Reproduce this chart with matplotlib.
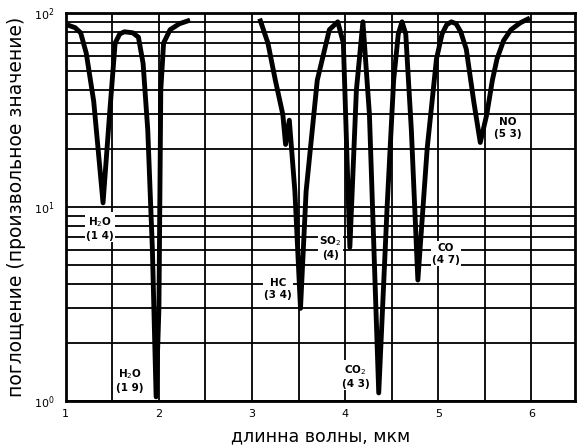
import matplotlib.pyplot as plt
import numpy as np
from matplotlib.ticker import LogLocator, MultipleLocator, FixedLocator, NullFormatter

# spectrum (nan = gap in the curve)
wavelength = [1.04, 1.10, 1.16, 1.22, 1.30, 1.40, 1.47, 1.53, 1.58, 1.63, 1.72, 1.78, 1.83, 1.88, 1.93, 1.97,
              2.00, 2.02, 2.05, 2.12, 2.22, 2.31, np.nan,
              3.09, 3.17, 3.25, 3.33, 3.36, 3.40, 3.46, 3.52, 3.58, 3.70, 3.83, 3.92, 3.98, 4.05,
              4.12, 4.19, 4.26, 4.36, 4.45, 4.52, 4.57, 4.61, 4.65, 4.71, 4.78, 4.88, 4.98, 5.04, 5.09,
              5.14, 5.19, 5.24, 5.30, 5.38, 5.45, 5.52, 5.58, 5.63, 5.70, 5.78, 5.88, 5.96]
absorption = [86, 84, 79, 62, 35, 10.5, 30, 70, 78, 80, 79, 75, 55, 25, 6, 1.05,
              3, 40, 70, 82, 88, 91, np.nan,
              91, 70, 45, 30, 21, 28, 12, 3.0, 12, 45, 82, 90, 70, 6.2,
              40, 90, 30, 1.1, 10, 45, 78, 90, 78, 25, 4.2, 20, 58, 78, 87,
              90, 88, 80, 65, 35, 21.5, 30, 45, 58, 72, 82, 89, 93]

# band labels
band_names = ["H$_2$O\n(1 4)", "H$_2$O\n(1 9)", "HC\n(3 4)", "SO$_2$\n(4)", "CO$_2$\n(4 3)", "CO\n(4 7)", "NO\n(5 3)"]
band_x = [1.37, 1.69, 3.28, 3.84, 4.11, 5.08, 5.75]
band_y = [7.8, 1.28, 3.79, 6.2, 1.35, 5.75, 25.4]

fig = plt.figure(figsize=(5.77, 4.47), dpi=100)
ax = fig.add_axes([0.114, 0.103, 0.883, 0.868])

ax.plot(wavelength, absorption, color="black", lw=3.5, solid_joinstyle="round", zorder=3)

for name, bx, by in zip(band_names, band_x, band_y):
    ax.text(bx, by, name, ha="center", va="center", fontsize=7.5, fontweight="bold",
            linespacing=1.25, zorder=4,
            bbox=dict(facecolor="white", edgecolor="none", pad=1.0))

ax.set_yscale("log")
ax.set_xlim(1, 6.47)
ax.set_ylim(1, 100)

ax.xaxis.set_major_locator(FixedLocator([1, 2, 3, 4, 5, 6]))
ax.xaxis.set_minor_locator(MultipleLocator(0.5))
ax.yaxis.set_major_locator(LogLocator(base=10))
ax.yaxis.set_minor_locator(LogLocator(base=10, subs=np.arange(2, 10)))
ax.yaxis.set_minor_formatter(NullFormatter())

ax.grid(which="both", color="black", lw=1.3)
ax.set_axisbelow(True)
ax.tick_params(which="both", length=0)
ax.tick_params(axis="x", labelsize=8, pad=6)
ax.tick_params(axis="y", labelsize=8, pad=8)
for s in ax.spines.values():
    s.set_linewidth(2)

ax.set_xlabel("длинна волны, мкм", fontsize=12.5, labelpad=6)
ax.set_ylabel("поглощение (произвольное значение)", fontsize=13.5, labelpad=6)

fig.savefig("out.png", dpi=100)
